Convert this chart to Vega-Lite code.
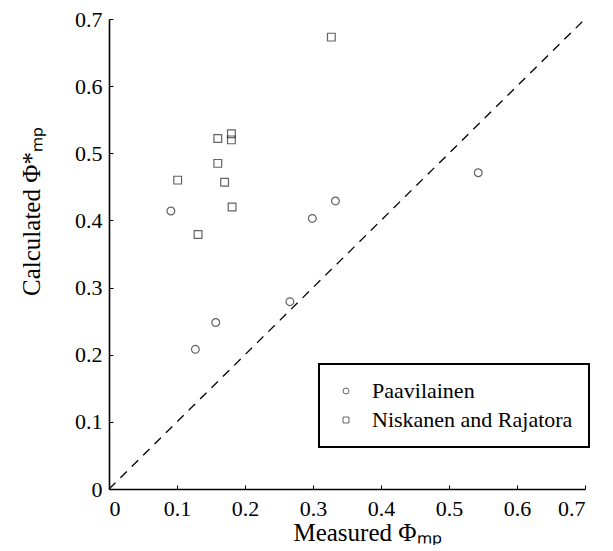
{
  "$schema": "https://vega.github.io/schema/vega-lite/v6.json",
  "width": 476,
  "height": 470,
  "padding": {"left": 19, "top": 8, "right": 0, "bottom": 0},
  "autosize": {"type": "pad"},
  "background": "white",
  "config": {
    "view": {"stroke": null},
    "font": "Liberation Serif",
    "axis": {
      "grid": false,
      "domainColor": "black",
      "domainWidth": 1.6,
      "tickColor": "black",
      "tickSize": -4,
      "labelFont": "Liberation Serif",
      "labelFontSize": 22,
      "labelColor": "black",
      "titleFont": "Liberation Serif",
      "titleFontSize": 25,
      "titleFontWeight": "normal",
      "titleColor": "black"
    },
    "legend": {
      "orient": "none",
      "legendX": 210,
      "legendY": 345,
      "strokeColor": "black",
      "strokeWidth": 2,
      "fillColor": "white",
      "padding": 16,
      "labelFont": "Liberation Serif",
      "labelFontSize": 22,
      "labelColor": "black",
      "labelOffset": 15,
      "rowPadding": 7,
      "symbolStrokeColor": "#222",
      "symbolStrokeWidth": 1,
      "symbolFillColor": "transparent",
      "symbolSize": 35,
      "labelLimit": 400
    }
  },
  "datasets": {
    "points": [
      {"series": "Paavilainen", "measured": 0.091, "calculated": 0.414},
      {"series": "Paavilainen", "measured": 0.127, "calculated": 0.208},
      {"series": "Paavilainen", "measured": 0.157, "calculated": 0.248},
      {"series": "Paavilainen", "measured": 0.266, "calculated": 0.279},
      {"series": "Paavilainen", "measured": 0.299, "calculated": 0.403},
      {"series": "Paavilainen", "measured": 0.333, "calculated": 0.429},
      {"series": "Paavilainen", "measured": 0.543, "calculated": 0.471},
      {"series": "Niskanen and Rajatora", "measured": 0.327, "calculated": 0.673},
      {"series": "Niskanen and Rajatora", "measured": 0.160, "calculated": 0.522},
      {"series": "Niskanen and Rajatora", "measured": 0.180, "calculated": 0.529},
      {"series": "Niskanen and Rajatora", "measured": 0.180, "calculated": 0.520},
      {"series": "Niskanen and Rajatora", "measured": 0.160, "calculated": 0.485},
      {"series": "Niskanen and Rajatora", "measured": 0.101, "calculated": 0.460},
      {"series": "Niskanen and Rajatora", "measured": 0.170, "calculated": 0.457},
      {"series": "Niskanen and Rajatora", "measured": 0.181, "calculated": 0.420},
      {"series": "Niskanen and Rajatora", "measured": 0.131, "calculated": 0.379}
    ],
    "diag": [
      {"measured": 0, "calculated": 0},
      {"measured": 0.7, "calculated": 0.7}
    ]
  },
  "layer": [
    {
      "data": {"name": "diag"},
      "mark": {"type": "line", "color": "black", "strokeWidth": 1.3, "strokeDash": [9, 7]},
      "encoding": {
        "x": {"field": "measured", "type": "quantitative"},
        "y": {"field": "calculated", "type": "quantitative"}
      }
    },
    {
      "data": {"name": "points"},
      "mark": {"type": "point", "filled": false, "strokeWidth": 1.2, "color": "#222", "size": 60},
      "encoding": {
        "x": {
          "field": "measured", "type": "quantitative",
          "scale": {"domain": [0, 0.7], "nice": false, "zero": false},
          "axis": {"values": [0, 0.1, 0.2, 0.3, 0.4, 0.5, 0.6, 0.7], "format": "~g", "labelPadding": 13, "title": "Measured Φₘₚ", "titlePadding": 1, "titleX": 258}
        },
        "y": {
          "field": "calculated", "type": "quantitative",
          "scale": {"domain": [0, 0.7], "nice": false, "zero": false},
          "axis": {"values": [0, 0.1, 0.2, 0.3, 0.4, 0.5, 0.6, 0.7], "format": "~g", "labelPadding": 11, "title": "Calculated Φ*ₘₚ", "titlePadding": 30, "titleY": 192}
        },
        "shape": {
          "field": "series", "type": "nominal",
          "scale": {"domain": ["Paavilainen", "Niskanen and Rajatora"], "range": ["circle", "square"]},
          "legend": {"title": null}
        }
      }
    }
  ]
}
